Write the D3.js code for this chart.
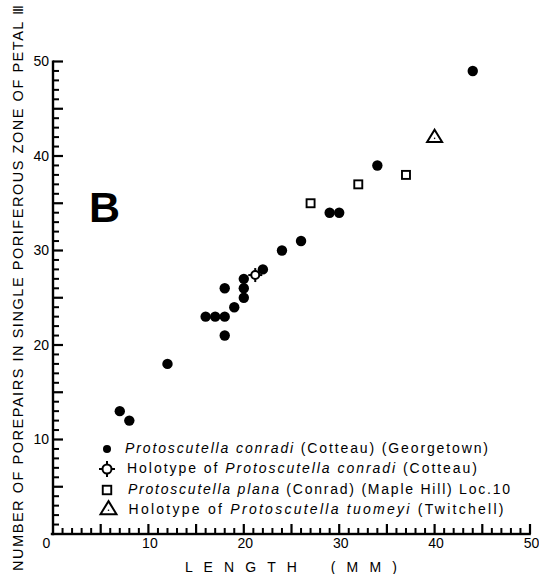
<!DOCTYPE html>
<html><head><meta charset="utf-8">
<script src="https://cdn.jsdelivr.net/npm/d3@7"></script>
<style>body{margin:0;background:#fff}svg{display:block}</style>
</head><body>
<svg id="c" width="539" height="574"></svg>
<script>
// ---- data (length in mm, number of porepairs) ----
const conradiLength    = [7, 8, 12, 16, 17, 18, 18, 18, 19, 20, 20, 20, 22, 24, 26, 29, 30, 34, 44];
const conradiPorepairs = [13, 12, 18, 23, 23, 23, 21, 26, 24, 25, 26, 27, 28, 30, 31, 34, 34, 39, 49];
const holotypeConradiLength    = [21.2];
const holotypeConradiPorepairs = [27.4];
const planaLength    = [27, 32, 37];
const planaPorepairs = [35, 37, 38];
const tuomeyiLength    = [40];
const tuomeyiPorepairs = [42];
const xTickLabels = [0, 10, 20, 30, 40, 50];
const yTickLabels = [10, 20, 30, 40, 50];
const legendRow1 = [["Protoscutella conradi", true], [" (Cotteau) (Georgetown)", false]];
const legendRow2 = [["Holotype of ", false], ["Protoscutella conradi", true], [" (Cotteau)", false]];
const legendRow3 = [["Protoscutella plana", true], [" (Conrad) (Maple Hill) Loc.10", false]];
const legendRow4 = [["Holotype of ", false], ["Protoscutella tuomeyi", true], [" (Twitchell)", false]];
const yTitle = "NUMBER OF POREPAIRS IN SINGLE PORIFEROUS ZONE OF PETAL \u2162";
const xTitle = "L E N G T H \u00A0 \u00A0( M M )";
const panelLetter = "B";

const FONT = "'Liberation Sans', Arial, 'DejaVu Sans', sans-serif";
const svg = d3.select("#c");
const x = d3.scaleLinear().domain([0, 50]).range([53, 530]);
const y = d3.scaleLinear().domain([0, 50]).range([534, 61.5]);

// tick labels
const gxl = svg.append("g").attr("transform", `translate(0,${y(0)})`)
  .call(d3.axisBottom(x).tickValues(xTickLabels).tickSize(0).tickPadding(4.5).tickFormat(d3.format("d")));
gxl.select(".domain").remove();
gxl.selectAll(".tick line").remove();
gxl.selectAll("text").attr("font-family", FONT).attr("font-size", 14).attr("fill", "#000")
  .attr("dx", d => d === 0 ? -7 : 1);
const gyl = svg.append("g").attr("transform", `translate(${x(0)},0)`)
  .call(d3.axisLeft(y).tickValues(yTickLabels).tickSize(0).tickPadding(4).tickFormat(d3.format("d")));
gyl.select(".domain").remove();
gyl.selectAll(".tick line").remove();
gyl.selectAll("text").attr("font-family", FONT).attr("font-size", 14).attr("fill", "#000");

// axis titles
svg.append("text").attr("transform", "translate(23,571) rotate(-90)")
  .attr("font-family", FONT).attr("font-size", 14.5).attr("textLength", 566)
  .attr("lengthAdjust", "spacing").text(yTitle);
svg.append("text").attr("x", 185).attr("y", 571.5)
  .attr("font-family", FONT).attr("font-size", 14).attr("textLength", 212)
  .attr("lengthAdjust", "spacing").text(xTitle);

// panel letter
svg.append("text").attr("x", 89).attr("y", 222).attr("font-family", FONT)
  .attr("font-size", 43).attr("font-weight", "bold").text(panelLetter);

// ---- marks ----
const conradi = conradiLength.map((d, i) => [d, conradiPorepairs[i]]);
svg.append("g").selectAll("circle").data(conradi).join("circle")
  .attr("cx", d => x(d[0])).attr("cy", d => y(d[1])).attr("r", 5.2).attr("fill", "#000");

function holotypeMark(g, cx, cy, r, spoke) {
  g.append("circle").attr("cx", cx).attr("cy", cy).attr("r", r)
    .attr("fill", "#fff").attr("stroke", "#000").attr("stroke-width", 2);
  [[0, -1], [0, 1], [-1, 0], [1, 0]].forEach(([a, b]) => {
    g.append("line").attr("x1", cx + a * r).attr("y1", cy + b * r)
      .attr("x2", cx + a * (r + spoke)).attr("y2", cy + b * (r + spoke))
      .attr("stroke", "#000").attr("stroke-width", 2);
  });
}
function squareMark(g, cx, cy, s) {
  g.append("rect").attr("x", cx - s / 2).attr("y", cy - s / 2).attr("width", s).attr("height", s)
    .attr("fill", "#fff").attr("stroke", "#000").attr("stroke-width", 1.9);
}
function triangleMark(g, cx, cy, w) {
  const h = w * 0.82;
  g.append("path").attr("d", `M${cx},${cy - h * 0.6}L${cx + w / 2},${cy + h * 0.4}L${cx - w / 2},${cy + h * 0.4}Z`)
    .attr("fill", "#fff").attr("stroke", "#000").attr("stroke-width", 2).attr("stroke-linejoin", "miter");
  g.append("circle").attr("cx", cx).attr("cy", cy + h * 0.1).attr("r", 0.8).attr("fill", "#000");
}
const gm = svg.append("g");
holotypeConradiLength.forEach((d, i) => holotypeMark(gm, x(d), y(holotypeConradiPorepairs[i]), 4, 3));
planaLength.forEach((d, i) => squareMark(gm, x(d), y(planaPorepairs[i]), 8));
tuomeyiLength.forEach((d, i) => triangleMark(gm, x(d), y(tuomeyiPorepairs[i]), 15));

// ---- legend ----
const lg = svg.append("g");
const rows = [
  {segs: legendRow1, tx: 125, base: 452.5, len: 363, sy: 449},
  {segs: legendRow2, tx: 127, base: 472.5, len: 350, sy: 469},
  {segs: legendRow3, tx: 128, base: 494, len: 382, sy: 490},
  {segs: legendRow4, tx: 128.5, base: 513.5, len: 375, sy: 509}
];
rows.forEach(r => {
  const t = lg.append("text").attr("x", r.tx).attr("y", r.base).attr("font-family", FONT)
    .attr("font-size", 14).attr("textLength", r.len).attr("lengthAdjust", "spacing");
  r.segs.forEach(s => t.append("tspan").attr("font-style", s[1] ? "italic" : "normal").text(s[0]));
});
lg.append("circle").attr("cx", 107).attr("cy", rows[0].sy).attr("r", 4).attr("fill", "#000");
holotypeMark(lg, 107, rows[1].sy, 4.5, 3.5);
squareMark(lg, 107, rows[2].sy, 8.5);
triangleMark(lg, 108.5, rows[3].sy, 16);

// ---- axes: lines and tick marks from the scales (drawn last, on top) ----
const minor = d3.range(1, 51);
const tickLen = v => (v % 5 === 0 ? 10 : 6);
const tickW = v => (v % 5 === 0 ? 2.2 : 2);
const ga = svg.append("g");
ga.append("rect").attr("x", x(0) - 2.2).attr("y", y(0) - 1.2).attr("width", x(50) - x(0) + 3).attr("height", 2.4).attr("fill", "#000");
ga.append("rect").attr("x", x(0) - 1.2).attr("y", y(50) - 1).attr("width", 2.4).attr("height", y(0) - y(50) + 2.2).attr("fill", "#000");
ga.append("g").selectAll("rect").data(minor).join("rect")
  .attr("x", d => x(d) - tickW(d) / 2).attr("width", d => tickW(d))
  .attr("y", d => y(0) - tickLen(d)).attr("height", d => tickLen(d))
  .attr("fill", "#000");
ga.append("g").selectAll("rect").data(minor).join("rect")
  .attr("y", d => y(d) - tickW(d) / 2).attr("height", d => tickW(d))
  .attr("x", x(0)).attr("width", d => tickLen(d))
  .attr("fill", "#000");
</script>
</body></html>
